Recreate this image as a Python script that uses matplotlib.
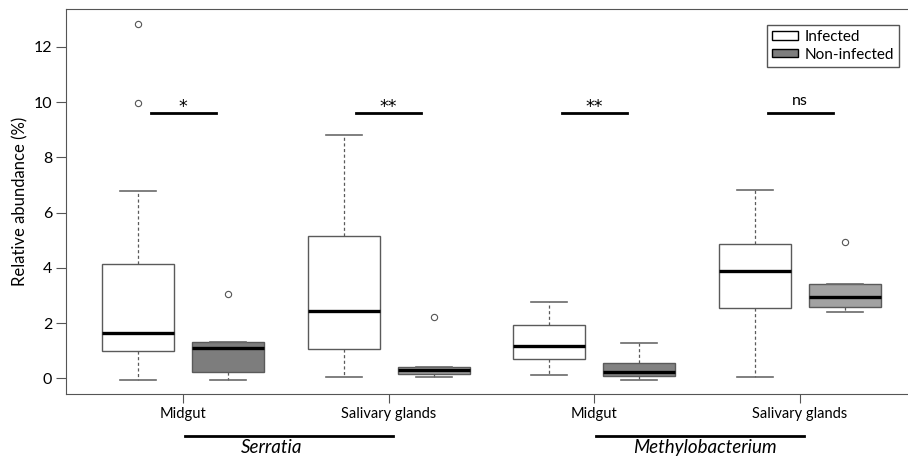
import matplotlib
matplotlib.use("Agg")
import matplotlib.pyplot as plt
from matplotlib.patches import Patch

plt.rcParams['font.family'] = ['Lato', 'DejaVu Sans']

# Grupos (bacteria x tecido) e tratamentos
grupos = ['Midgut', 'Salivary glands', 'Midgut', 'Salivary glands']
bacterias = ['Serratia', 'Methylobacterium']
tratamentos = ['Infected', 'Non-infected']

# Estatisticas das caixas (ordem: infected/non-infected por grupo)
whislo = [-0.05, -0.07, 0.05, 0.05, 0.13, -0.07, 0.05, 2.39]
q1 = [0.99, 0.23, 1.07, 0.17, 0.68, 0.08, 2.54, 2.57]
mediana = [1.63, 1.11, 2.43, 0.29, 1.16, 0.21, 3.88, 2.96]
q3 = [4.13, 1.32, 5.16, 0.41, 1.92, 0.57, 4.88, 3.43]
whishi = [6.77, 1.32, 8.83, 0.41, 2.77, 1.28, 6.81, 3.43]
outliers = [[12.85, 9.98], [3.04], [], [2.22], [], [], [], [4.94]]

# Significancia de cada grupo
signif = ['*', '**', '**', 'ns']
altura_signif = 9.6

cores = ['white', '#7d7d7d', 'white', '#9c9c9c', 'white', '#828282', 'white', '#a2a2a2']

fig = plt.figure(figsize=(9.08, 4.59), dpi=100)
ax = fig.add_axes([0.0727, 0.141, 0.9273, 0.839])

posicoes = []
for g in range(len(grupos)):
    posicoes += [g + 1 - 0.219, g + 1 + 0.219]

stats = []
for i in range(len(mediana)):
    stats.append(dict(med=mediana[i], q1=q1[i], q3=q3[i], whislo=whislo[i],
                      whishi=whishi[i], fliers=outliers[i]))

bp = ax.bxp(stats, positions=posicoes, widths=0.35, patch_artist=True,
            showfliers=True,
            boxprops=dict(edgecolor='#5a5a5a', linewidth=1.0),
            medianprops=dict(color='black', linewidth=2.4, solid_capstyle='butt'),
            whiskerprops=dict(color='#5a5a5a', linewidth=0.9, linestyle=(0, (2.5, 2))),
            capprops=dict(color='#6a6a6a', linewidth=1.2),
            capwidths=0.175,
            flierprops=dict(marker='o', markersize=4.5, markerfacecolor='none',
                            markeredgecolor='#555555', markeredgewidth=0.8))
for caixa, cor in zip(bp['boxes'], cores):
    caixa.set_facecolor(cor)

# Barras de significancia
for g, s in enumerate(signif):
    ax.plot([g + 1 - 0.158, g + 1 + 0.158], [altura_signif, altura_signif],
            color='black', linewidth=2)
    if s == 'ns':
        ax.text(g + 1, 9.89, s, ha='center', va='baseline', fontsize=11.5)
    else:
        ax.text(g + 1, 9.64, s, ha='center', va='baseline', fontsize=12.5,
                family='DejaVu Sans')

ax.set_xlim(0.431, 4.525)
ax.set_ylim(-0.58, 13.37)
ax.set_xticks(range(1, len(grupos) + 1))
ax.set_xticklabels(grupos, fontsize=10.5)
ax.set_yticks([0, 2, 4, 6, 8, 10, 12])
ax.tick_params(axis='both', colors='#555555', labelcolor='black')
ax.tick_params(axis='y', length=7, pad=3, labelsize=11.5)
ax.tick_params(axis='x', length=6.5, pad=3)
ax.set_ylabel('Relative abundance (%)', fontsize=12, labelpad=4)

for lado in ['left', 'top', 'bottom']:
    ax.spines[lado].set_color('#555555')
ax.spines['right'].set_visible(False)

# Rotulos das bacterias abaixo do eixo
trans = ax.get_xaxis_transform()
posicoes_texto = [1.43, 3.535]
for b, nome in enumerate(bacterias):
    x0 = 1 + 2 * b
    ax.plot([x0 + 0.01, x0 + 1.02], [-0.1075, -0.1075], color='black',
            linewidth=2, transform=trans, clip_on=False)
    ax.text(posicoes_texto[b], -0.137, nome, transform=trans, ha='center',
            va='center', fontsize=13.5, style='italic')

handles = [Patch(facecolor='white', edgecolor='black', label=tratamentos[0]),
           Patch(facecolor='#7d7d7d', edgecolor='black', label=tratamentos[1])]
leg = fig.legend(handles=handles, loc='upper right',
                 bbox_to_anchor=(907 / 908, 1 - 17 / 459), fontsize=11,
                 handlelength=1.7, handleheight=0.45, handletextpad=0.4,
                 borderpad=0.35, labelspacing=0.25, fancybox=False, framealpha=1)
leg.get_frame().set_edgecolor('#555555')
leg.get_frame().set_linewidth(1)

fig.savefig('out.png', dpi=100)
